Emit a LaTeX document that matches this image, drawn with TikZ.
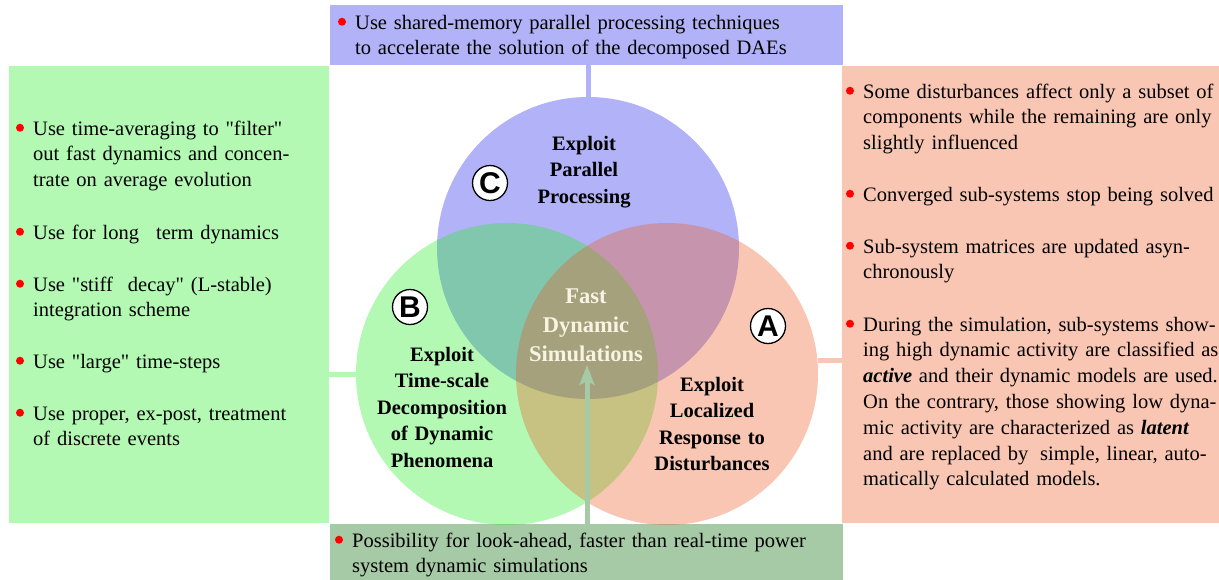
\documentclass[tikz,border=0pt]{standalone}
\usepackage{fontspec}
\setmainfont{Liberation Serif}
\newfontfamily\badgefont{Liberation Sans}
\usetikzlibrary{arrows.meta,positioning}

\definecolor{vennblue}{RGB}{35,35,235}
\definecolor{venngreen}{RGB}{38,238,38}
\definecolor{vennorange}{RGB}{235,92,35}
\definecolor{lookgreen}{RGB}{166,201,166}
\definecolor{fastcream}{RGB}{248,244,228}

\newcommand{\bodysize}{\fontsize{20.5}{25.8}\selectfont}
\newcommand{\titlesize}{\fontsize{20.5}{26.5}\selectfont\bfseries}
\newcommand{\dq}{\textquotedbl}

\tikzset{
  panel/.style={draw=none, inner sep=0pt, anchor=north west},
  venn/.style={circle, draw=none, inner sep=0pt, minimum size=302pt, fill opacity=0.35},
  link/.style={line width=5pt},
  lookahead/.style={draw=lookgreen, line width=5pt, -{Stealth[length=20pt, width=15pt, inset=4pt]}},
  reddot/.style={circle, fill=red, inner sep=0pt, minimum size=8pt, anchor=center, xshift=-13pt, yshift=-11pt},
  item/.style={inner sep=0pt, text width=#1, align=left, anchor=base west, font=\bodysize,
    label={[reddot]north west:}},
  item/.default=520pt,
  title/.style={inner sep=0pt, text width=240pt, align=center, anchor=base, font=\titlesize},
  badge/.style={circle, draw=black, line width=1.3pt, fill=white, minimum size=35pt, inner sep=0pt,
    font=\badgefont\bfseries\fontsize{30}{30}\selectfont}
}

\begin{document}
\begin{tikzpicture}[x=1pt,y=1pt,yscale=-1,xscale=1]
\useasboundingbox (0,0) rectangle (1219,579);

%Shape: Rectangle panels
\node[panel, fill=vennblue!35!white, minimum width=513pt, minimum height=60pt] (boxT) at (330,5) {};
\node[panel, fill=venngreen!35!white, minimum width=320pt, minimum height=457pt] (boxL) at (9,66) {};
\node[panel, fill=vennorange!35!white, minimum width=377pt, minimum height=457pt] (boxR) at (842,66) {};
\node[panel, fill=lookgreen, minimum width=513pt, minimum height=56pt] (boxB) at (330,524) {};

%Shape: Circles
\node[venn, fill=vennblue] (cC) at (588,248) {};
\node[venn, fill=venngreen] (cB) at (507,374) {};
\node[venn, fill=vennorange] (cA) at (667,374) {};

%Straight Lines
\draw[link, vennblue!35!white] (cC.north) -- (cC.north |- boxT.south);
\draw[link, venngreen!35!white] (cB.west) -- (cB.west -| boxL.east);
\draw[link, vennorange!35!white] (cA.5) -- (cA.5 -| boxR.west);

% Badges
\node[badge] (bC) at (490,183) {C};
\node[badge] (bB) at (410,307) {B};
\node[badge] (bA) at (768,326) {A};

% Text Node
\node[title] (tC) at (584,150) {Exploit\\Parallel\\Processing};
\node[title] (tB) at (442,361) {Exploit\\Time-scale\\Decomposition\\of Dynamic\\Phenomena};
\node[title] (tA) at (712,391) {Exploit\\Localized\\Response to\\Disturbances};

%Arrow up to the centre
\coordinate (tip) at (587,365);
\draw[lookahead] (tip |- boxB.north) -- (tip);

\node[title, font=\fontsize{22.5}{29}\selectfont\bfseries, text=fastcream] (fast) at (586,303) {Fast\\Dynamic\\Simulations};

% Text Node
\node[item] (t1) at (355,29) {\strut Use shared-memory parallel processing techniques\\to accelerate the solution of the decomposed DAEs};

% Text Node
\node[item] (l1) at (33,135) {\strut Use time-averaging to \dq filter\dq\\out fast dynamics and concen-\\trate on average evolution};
\node[item] (l2) at (33,239) {\strut Use for long\hspace{17pt}term dynamics};
\node[item] (l3) at (33,291) {\strut Use \dq stiff\hspace{15pt}decay\dq\ (L-stable)\\integration scheme};
\node[item] (l4) at (33,368) {\strut Use \dq large\dq\ time-steps};
\node[item] (l5) at (33,420) {\strut Use proper, ex-post, treatment\\of discrete events};

% Text Node
\node[item] (r1) at (863,98) {\strut Some disturbances affect only a subset of\\components while the remaining are only\\slightly influenced};
\node[item] (r2) at (863,201) {\strut Converged sub-systems stop being solved};
\node[item] (r3) at (863,253) {\strut Sub-system matrices are updated asyn-\\chronously};
\node[item] (r4) at (863,331) {\strut During the simulation, sub-systems show-\\ing high dynamic activity are classified as\\\textbf{\textit{active}} and their dynamic models are used.\\On the contrary, those showing low dyna-\\mic activity are characterized as \textbf{\textit{latent}}\\and are replaced by\hspace{5pt} simple, linear, auto-\\matically calculated models.};

% Text Node
\node[item] (b1) at (352,547) {\strut Possibility for look-ahead, faster than real-time power\\system dynamic simulations};

\end{tikzpicture}
\end{document}
